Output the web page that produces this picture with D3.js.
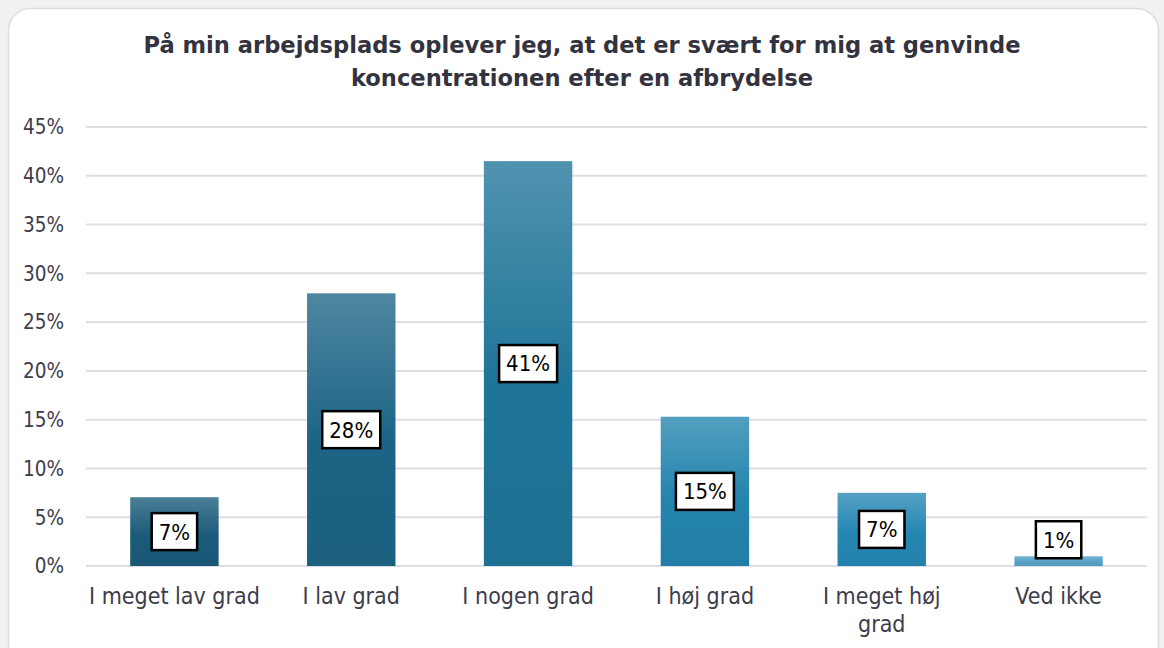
<!DOCTYPE html>
<html>
<head>
<meta charset="utf-8">
<script src="https://cdn.jsdelivr.net/npm/d3@7"></script>
<style>
  body { margin: 0; background: #f1f1f1; }
  svg { display: block; }
</style>
</head>
<body>
<svg id="chart" width="1164" height="648"></svg>
<script>
// Data
const categories = ["I meget lav grad", "I lav grad", "I nogen grad", "I høj grad", "I meget høj grad", "Ved ikke"];
const values = [7.05, 27.95, 41.5, 15.3, 7.5, 1.0];
const labels = ["7%", "28%", "41%", "15%", "7%", "1%"];
const yTicks = [0, 5, 10, 15, 20, 25, 30, 35, 40, 45];
const titleLines = ["På min arbejdsplads oplever jeg, at det er svært for mig at genvinde", "koncentrationen efter en afbrydelse"];

// bar base colours, dark to light
const palette = ["#1a5b7a", "#1c6485", "#1e7598", "#2384ad", "#2587b3", "#55a1c6"];

const svg = d3.select("#chart");
const margin = {left: 86, right: 17, top: 127, bottom: 82};
const W = 1164, H = 648;
const font = "'DejaVu Sans Condensed', 'DejaVu Sans', sans-serif";

// card
svg.append("rect")
    .attr("x", 8.5).attr("y", 8.5)
    .attr("width", 1150).attr("height", 660)
    .attr("rx", 22)
    .attr("fill", "#ffffff")
    .attr("stroke", "#dcdce6")
    .attr("stroke-width", 1.5);

const x = d3.scaleBand()
    .domain(categories)
    .range([margin.left, W - margin.right])
    .paddingInner(0.5)
    .paddingOuter(0.25);

const y = d3.scaleLinear()
    .domain([0, 45])
    .range([H - margin.bottom, margin.top]);

// gradients per bar
const defs = svg.append("defs");
palette.forEach((c, i) => {
    const g = defs.append("linearGradient")
        .attr("id", "grad" + i)
        .attr("x1", 0).attr("y1", 0).attr("x2", 0).attr("y2", 1);
    g.append("stop").attr("offset", "0%").attr("stop-color", d3.interpolateRgb(c, "#ffffff")(0.22));
    g.append("stop").attr("offset", "55%").attr("stop-color", c);
    g.append("stop").attr("offset", "100%").attr("stop-color", d3.color(c).darker(0.12));
});

// gridlines
svg.append("g")
    .selectAll("line")
    .data(yTicks)
    .join("line")
    .attr("x1", margin.left)
    .attr("x2", W - margin.right)
    .attr("y1", d => y(d))
    .attr("y2", d => y(d))
    .attr("stroke", "#dedde6")
    .attr("stroke-width", 2);

// y tick labels
svg.append("g")
    .selectAll("text")
    .data(yTicks)
    .join("text")
    .attr("x", 64)
    .attr("y", d => y(d))
    .attr("dy", "0.36em")
    .attr("text-anchor", "end")
    .attr("font-family", font)
    .attr("font-size", 20.5)
    .attr("fill", "#3c3c4c")
    .text(d => d + "%");

// bars
svg.append("g")
    .selectAll("rect")
    .data(values)
    .join("rect")
    .attr("x", (d, i) => x(categories[i]))
    .attr("width", x.bandwidth())
    .attr("y", d => y(d))
    .attr("height", d => y(0) - y(d))
    .attr("fill", (d, i) => "url(#grad" + i + ")");

// value labels in boxes
const boxH = 37;
const lab = svg.append("g")
    .selectAll("g")
    .data(values)
    .join("g")
    .attr("transform", (d, i) => {
        const cx = x(categories[i]) + x.bandwidth() / 2;
        let cy = (y(d) + y(0)) / 2;
        const hgt = y(0) - y(d);
        // too small bar: box sits just above it
        if (hgt < boxH) cy = y(d) - boxH / 2 + 2;
        return `translate(${cx},${cy})`;
    });

lab.append("text")
    .attr("text-anchor", "middle")
    .attr("dy", "0.36em")
    .attr("font-family", font)
    .attr("font-size", 22)
    .attr("fill", "#000")
    .text((d, i) => labels[i]);

lab.each(function() {
    const g = d3.select(this);
    const bb = g.select("text").node().getBBox();
    g.insert("rect", "text")
        .attr("x", -bb.width / 2 - 7)
        .attr("y", -boxH / 2)
        .attr("width", bb.width + 14)
        .attr("height", boxH)
        .attr("fill", "#fff")
        .attr("stroke", "#000")
        .attr("stroke-width", 2.5);
});

// category labels
const cat = svg.append("g")
    .selectAll("text")
    .data(categories)
    .join("text")
    .attr("x", d => x(d) + x.bandwidth() / 2)
    .attr("y", 604)
    .attr("text-anchor", "middle")
    .attr("font-family", font)
    .attr("font-size", 23)
    .attr("fill", "#3c3c4c");

cat.each(function(d) {
    const t = d3.select(this);
    // long label wraps like in the original
    const parts = d === "I meget høj grad" ? ["I meget høj", "grad"] : [d];
    parts.forEach((p, j) => {
        t.append("tspan")
            .attr("x", x(d) + x.bandwidth() / 2)
            .attr("dy", j === 0 ? 0 : 28)
            .text(p);
    });
});

// title
svg.append("g")
    .selectAll("text")
    .data(titleLines)
    .join("text")
    .attr("x", 582)
    .attr("y", (d, i) => 53 + i * 33)
    .attr("text-anchor", "middle")
    .attr("font-family", "'DejaVu Sans', sans-serif")
    .attr("font-weight", "bold")
    .attr("font-size", 22.6)
    .attr("fill", "#33333f")
    .text(d => d);
</script>
</body>
</html>
